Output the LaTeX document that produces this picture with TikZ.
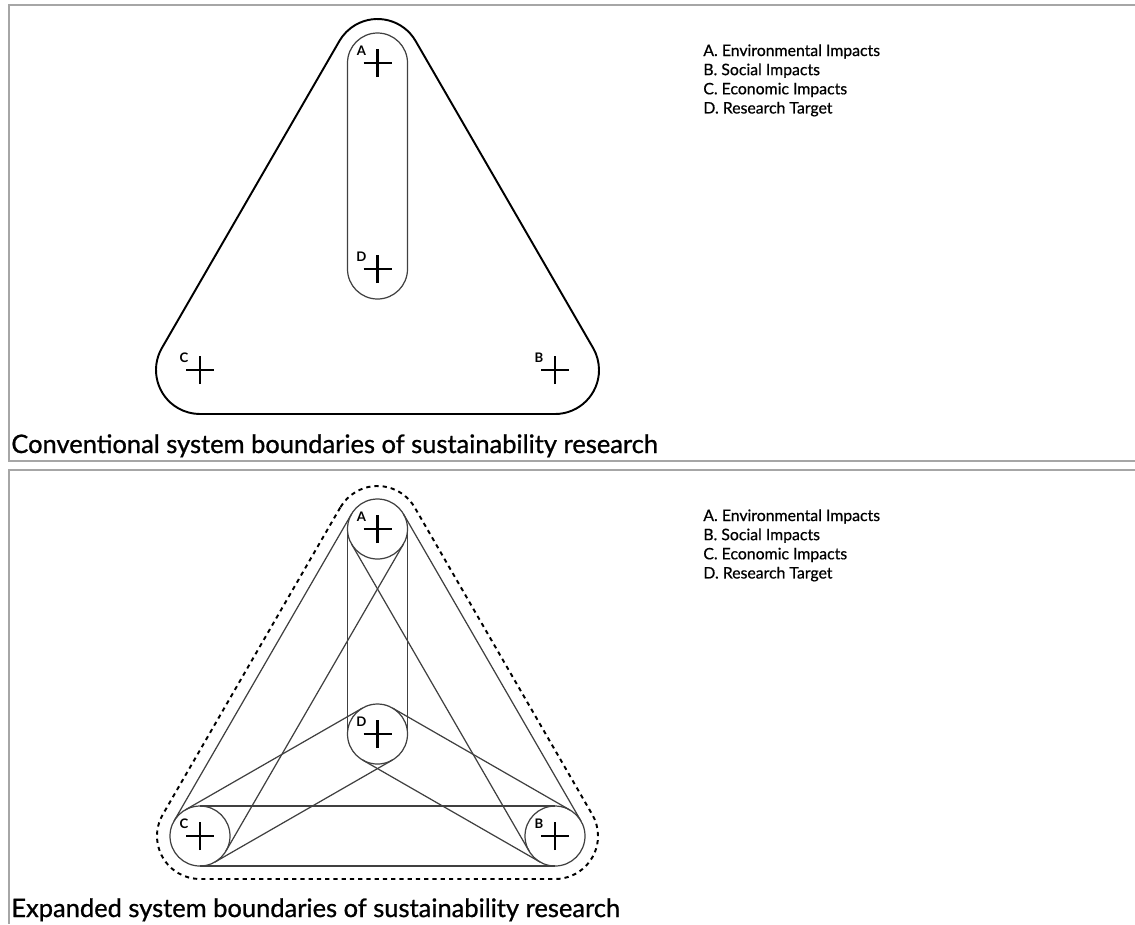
\documentclass[tikz,border=0pt]{standalone}
\usepackage{fontspec}
\setmainfont{Lato}
\newfontfamily\heavyfont[FakeBold=0.9]{Lato}
\newfontfamily\keyfont[FakeBold=0.6]{Lato}
\usetikzlibrary{calc}

\tikzset{
  panel/.style={draw=gray!70, line width=1.2pt},
  hull/.style={draw=black, line width=1.1pt},
  dashhull/.style={draw=black, line width=1.1pt, dash pattern=on 2.4pt off 2.3pt},
  ring/.style={draw=black!75, line width=0.7pt},
  cross/.style={draw=black, line width=1.3pt},
  tag/.style={font=\fontsize{7.5}{8}\selectfont\bfseries, inner sep=0pt},
  legend/.style={font=\keyfont\fontsize{9}{10.9}\selectfont, align=left, anchor=north west, inner sep=0pt},
  caption/.style={font=\heavyfont\fontsize{14.5}{17}\selectfont, anchor=base west, inner sep=0pt}
}

\begin{document}
\begin{tikzpicture}[x=0.02cm, y=0.02cm]
\useasboundingbox (0,0) rectangle (1135,-924);

% Panels
\draw[panel] (1135,-5) -- (9,-5) -- (9,-461) -- (1135,-461);
\draw[panel] (1135,-470) -- (9,-470) -- (9,-924);

% Points, upper panel
\coordinate (tA) at (377.5,-63);
\coordinate (tD) at (377.5,-269);
\coordinate (tC) at (200,-370);
\coordinate (tB) at (555,-370);
% Points, lower panel
\coordinate (bA) at (377.5,-529);
\coordinate (bD) at (377.5,-734);
\coordinate (bC) at (200,-836);
\coordinate (bB) at (555,-836);

% Conventional boundaries
\draw[hull] ($(tA)+(150:44)$) -- ($(tC)+(150:44)$)
    arc[start angle=150, end angle=270, radius=44] -- ($(tB)+(270:44)$)
    arc[start angle=-90, end angle=30, radius=44] -- ($(tA)+(30:44)$)
    arc[start angle=30, end angle=150, radius=44] -- cycle;
\draw[ring] ($(tA)+(-30,0)$) arc[start angle=180, end angle=0, radius=30]
    -- ($(tD)+(30,0)$) arc[start angle=0, end angle=-180, radius=30] -- cycle;

% Expanded boundaries
\draw[dashhull] ($(bA)+(150:43)$) -- ($(bC)+(150:43)$)
    arc[start angle=150, end angle=270, radius=43] -- ($(bB)+(270:43)$)
    arc[start angle=-90, end angle=30, radius=43] -- ($(bA)+(30:43)$)
    arc[start angle=30, end angle=150, radius=43] -- cycle;
\foreach \p in {bA,bB,bC,bD}
  \draw[ring] (\p) circle[radius=30];
\foreach \p/\q in {bA/bD,bA/bB,bA/bC,bB/bC,bD/bB,bD/bC}
  \draw[ring] ($(\p)!0.6cm!90:(\q)$) -- ($(\q)!0.6cm!-90:(\p)$)
              ($(\p)!0.6cm!-90:(\q)$) -- ($(\q)!0.6cm!90:(\p)$);

% Crosses and their letters
\foreach \p/\l in {tA/A,tB/B,tC/C,tD/D,bA/A,bB/B,bC/C,bD/D}{
  \draw[cross] ($(\p)+(-14,0)$) -- ($(\p)+(14,0)$)
               ($(\p)+(0,-14)$) -- ($(\p)+(0,14)$);
  \node[tag] (lab\p) at ($(\p)+(-16,12)$) {\l};
}

% Legends
\node[legend] (keyt) at (703,-44) {A. Environmental Impacts\\B. Social Impacts\\C. Economic Impacts\\D. Research Target};
\node[legend] (keyb) at (703,-509) {A. Environmental Impacts\\B. Social Impacts\\C. Economic Impacts\\D. Research Target};

% Captions
\node[caption] (capt) at (11,-453) {Conventional system boundaries of sustainability research};
\node[caption] (capb) at (11,-917) {Expanded system boundaries of sustainability research};
\end{tikzpicture}
\end{document}
